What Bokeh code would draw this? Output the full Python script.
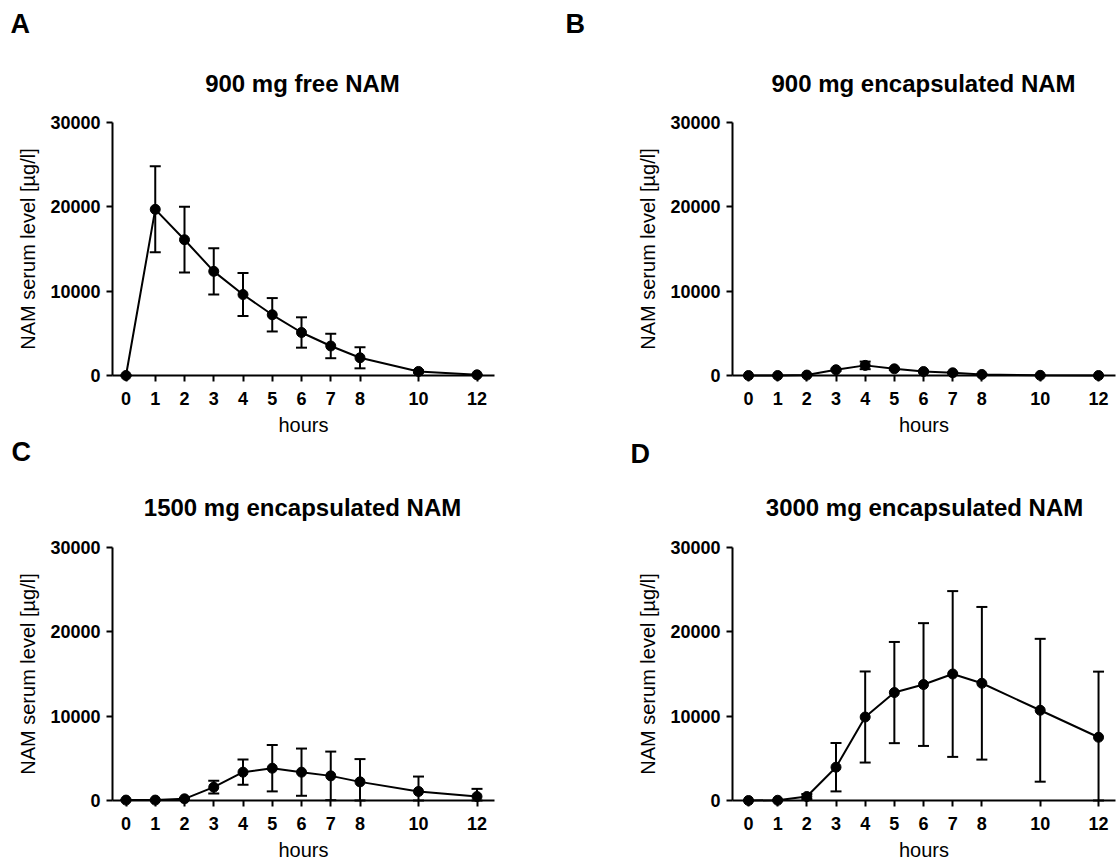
from bokeh.plotting import figure
from bokeh.layouts import column, row
from bokeh.models import (Range1d, FixedTicker, NumeralTickFormatter, Whisker,
                          TeeHead, ColumnDataSource, Label)
from bokeh.embed import file_html
from bokeh.resources import INLINE

# ---------------- data ----------------
hours = [0, 1, 2, 3, 4, 5, 6, 7, 8, 10, 12]
x_ticks = [0, 1, 2, 3, 4, 5, 6, 7, 8, 10, 12]
y_ticks = [0, 10000, 20000, 30000]
y_max = 30000

free900_mean = [0, 19700, 16100, 12350, 9600, 7200, 5100, 3500, 2100, 480, 80]
free900_sd = [0, 5100, 3900, 2750, 2550, 1980, 1800, 1450, 1250, 150, 40]

enc900_mean = [0, 0, 50, 680, 1200, 790, 470, 320, 120, 20, 0]
enc900_sd = [0, 0, 30, 120, 450, 120, 100, 80, 40, 10, 0]

enc1500_mean = [50, 50, 200, 1580, 3360, 3830, 3360, 2920, 2210, 1070, 470]
enc1500_sd = [30, 30, 100, 750, 1500, 2750, 2800, 2880, 2700, 1770, 910]

enc3000_mean = [0, 30, 470, 3950, 9900, 12800, 13750, 15000, 13900, 10700, 7500]
enc3000_sd = [0, 30, 300, 2870, 5400, 6000, 7280, 9830, 9050, 8470, 7780]

titles = ["900 mg free NAM", "900 mg encapsulated NAM",
          "1500 mg encapsulated NAM", "3000 mg encapsulated NAM"]
letters = ["A", "B", "C", "D"]
y_label = "NAM serum level [\u00b5g/l]"
x_label = "hours"

FONT = "Liberation Sans"


def make_panel(letter, title, mean, sd, width, height,
               yaxis_px, x0_px, px_per_h, ymax_px, y0_px,
               title_cx, title_base, letter_x, letter_base):
    lower = [max(0, m - s) for m, s in zip(mean, sd)]
    upper = [m + s for m, s in zip(mean, sd)]
    src = ColumnDataSource(dict(x=hours, y=mean, lower=lower, upper=upper))

    # the frame covers the whole figure
    x_start = -x0_px / px_per_h
    x_end = x_start + width / px_per_h
    x_axis_at = -(x0_px - yaxis_px) / px_per_h
    x_axis_end = x_ticks[-1] + 17 / px_per_h

    per_px = y_max / (y0_px - ymax_px)
    y_end = y_max + ymax_px * per_px
    y_start = -(height - y0_px) * per_px

    p = figure(width=width, height=height,
               x_range=Range1d(x_start, x_end), y_range=Range1d(y_start, y_end),
               output_backend="svg", toolbar_location=None,
               min_border_left=0, min_border_right=0,
               min_border_top=0, min_border_bottom=0,
               outline_line_color=None, background_fill_color="white",
               border_fill_color="white")
    p.grid.visible = False

    p.line("x", "y", source=src, line_color="black", line_width=2)
    w = Whisker(source=src, base="x", upper="upper", lower="lower",
                line_color="black", line_width=2,
                upper_head=TeeHead(size=11, line_color="black", line_width=2),
                lower_head=TeeHead(size=11, line_color="black", line_width=2))
    p.add_layout(w)
    p.scatter("x", "y", source=src, marker="circle", size=10,
              fill_color="black", line_color="black")

    # axes drawn inside the frame at fixed data locations
    xa = p.xaxis[0]
    ya = p.yaxis[0]
    xa.fixed_location = 0
    ya.fixed_location = x_axis_at
    ya.bounds = (0, y_max)
    xa.bounds = (x_axis_at, x_axis_end)
    xa.ticker = FixedTicker(ticks=x_ticks)
    ya.ticker = FixedTicker(ticks=y_ticks)
    ya.formatter = NumeralTickFormatter(format="0")
    for ax in (xa, ya):
        ax.axis_line_width = 2
        ax.axis_line_color = "black"
        ax.major_tick_line_width = 2
        ax.major_tick_line_color = "black"
        ax.major_tick_in = 0
        ax.major_tick_out = 6
        ax.minor_tick_line_color = None
        ax.major_label_text_font = FONT
        ax.major_label_text_font_style = "bold"
        ax.major_label_text_font_size = "18px"
        ax.major_label_text_color = "black"
        ax.axis_label_text_font = FONT
        ax.axis_label_text_font_style = "normal"
        ax.axis_label_text_font_size = "20px"
        ax.axis_label_text_color = "black"
    xa.axis_label = x_label
    ya.axis_label = y_label
    xa.major_label_standoff = 10
    ya.major_label_standoff = 6
    xa.axis_label_standoff = 6
    ya.axis_label_standoff = 8

    # title and panel letter (screen units: from frame bottom-left, y up)
    p.add_layout(Label(x=title_cx, y=height - title_base,
                       x_units="screen", y_units="screen", text=title,
                       text_align="center", text_baseline="alphabetic",
                       text_font=FONT, text_font_style="bold",
                       text_font_size="24px", text_color="black"))
    p.add_layout(Label(x=letter_x, y=height - letter_base,
                       x_units="screen", y_units="screen", text=letter,
                       text_align="left", text_baseline="alphabetic",
                       text_font=FONT, text_font_style="bold",
                       text_font_size="27px", text_color="black"))
    return p


TOP_H = 436
BOT_H = 864 - TOP_H

pA = make_panel(letters[0], titles[0], free900_mean, free900_sd,
                559, TOP_H, 112, 125.5, 29.25, 122, 375, 302, 83, 10, 23)
pB = make_panel(letters[1], titles[1], enc900_mean, enc900_sd,
                559, TOP_H, 173, 189, 29.17, 122, 375, 364, 83, 6, 23)
pC = make_panel(letters[2], titles[2], enc1500_mean, enc1500_sd,
                559, BOT_H, 112, 125.5, 29.25, 547 - TOP_H, 800 - TOP_H,
                302, 507 - TOP_H, 11, 451 - TOP_H)
pD = make_panel(letters[3], titles[3], enc3000_mean, enc3000_sd,
                559, BOT_H, 173, 189, 29.17, 547 - TOP_H, 800 - TOP_H,
                365, 507 - TOP_H, 71, 453 - TOP_H)

layout = column(row(pA, pB), row(pC, pD))

open("out.html", "w").write(file_html(layout, INLINE))
